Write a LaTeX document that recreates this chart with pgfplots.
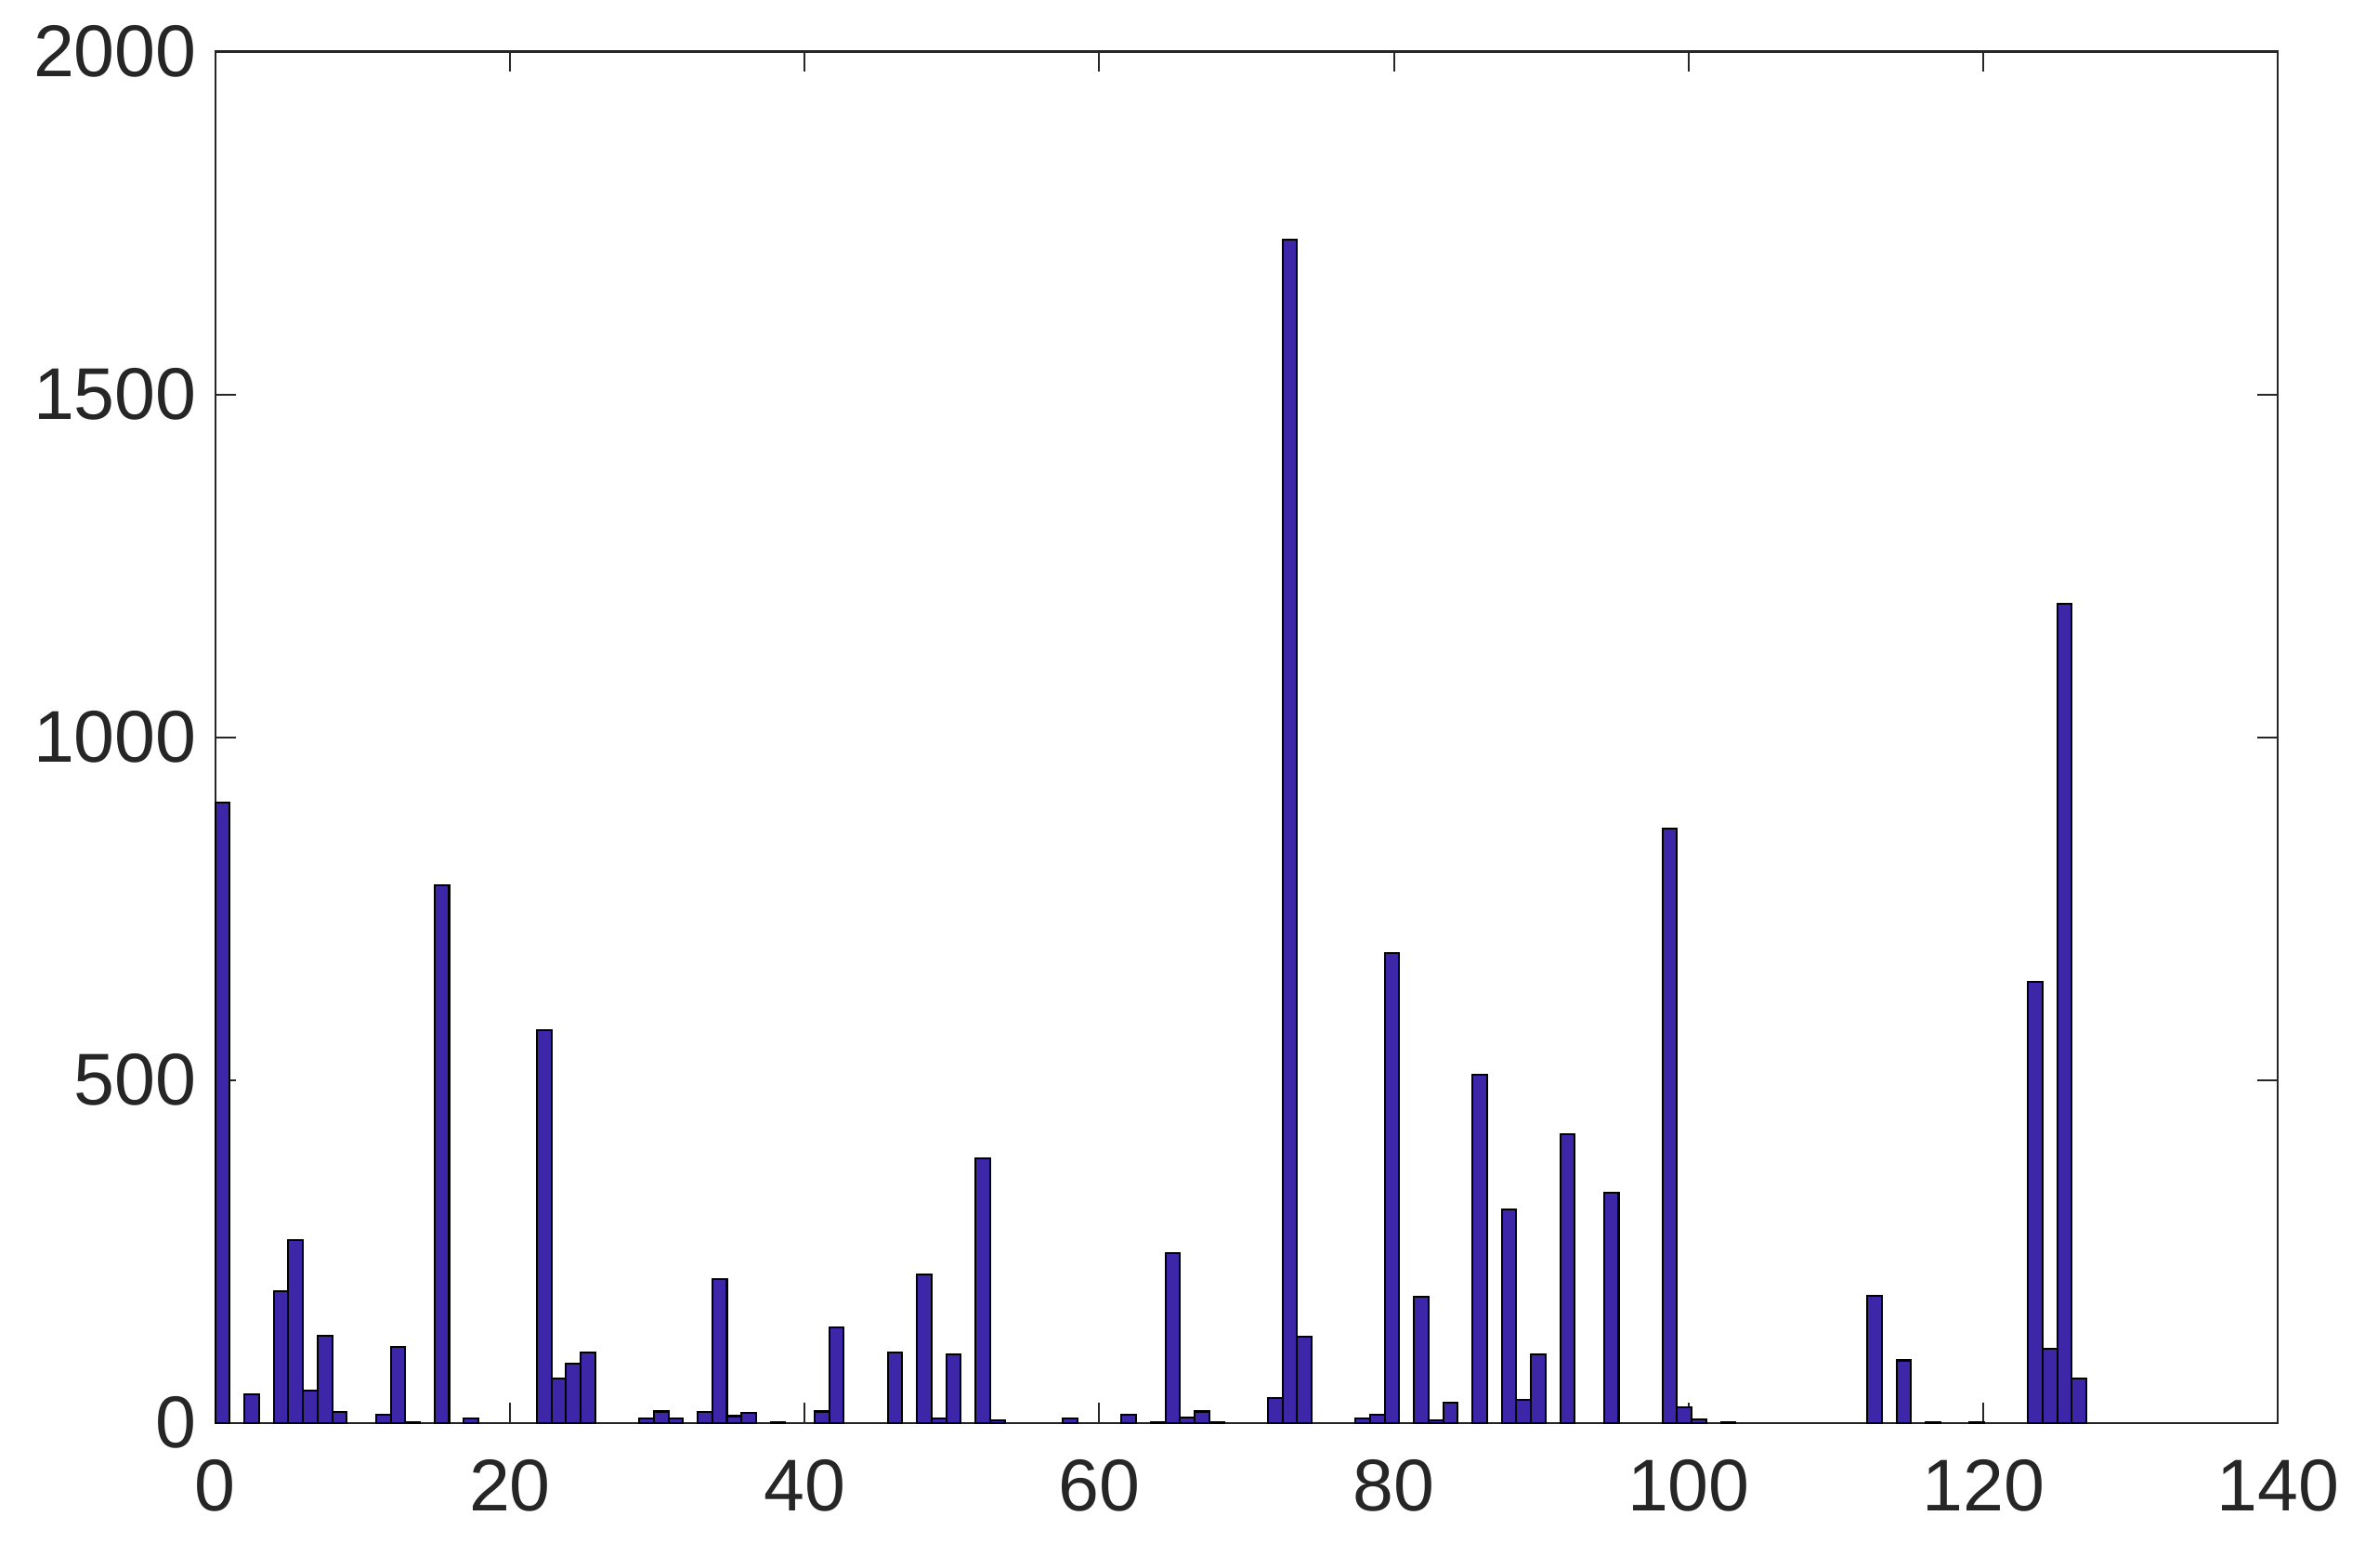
\documentclass[border=0pt]{standalone}
\usepackage{fontspec}
\setmainfont{Liberation Sans}
\usepackage{pgfplots}
\pgfplotsset{compat=1.18}
\usepackage{pgfplotstable}
\definecolor{barblue}{RGB}{62,38,168}
\definecolor{axgray}{RGB}{38,38,38}
\pgfplotstableread{
k v
0 905
2 42
4 192
5 267
6 47
7 127
8 16
11 12
12 111
13 1
15 784
17 6
22 573
23 65
24 86
25 102
29 6.5
30 16.5
31 6.5
33 15.6
34 210
35 9.7
36 14.7
38 1
41 16.5
42 138.5
46 102
48 216
49 6
50 100
52 386
53 4
58 6.5
62 12
64 1
65 247
66 7.5
67 16.5
68 1
72 36
73 1725
74 125
78 6.5
79 12
80 685
82 184
83 3
84 29
86 507
88 311
89 33
90 100
92 421
95 335
99 867
100 22
101 5
103 1
113 185
115 91
117 1
120 1
124 643
125 108
126 1195
127 65
}\hist
\begin{document}
\begin{tikzpicture}
\path[use as bounding box] (-45.5pt,-30.7pt) rectangle (454.5pt,300.8pt);
\begin{axis}[
  at={(0,0)}, anchor=south west,
  scale only axis,
  width=436.1pt, height=289.9pt,
  xmin=0, xmax=140, ymin=0, ymax=2000,
  xtick={0,20,...,140},
  ytick={0,500,...,2000},
  tick align=inside,
  major tick length=4.3pt,
  minor tick num=0,
  axis line style={axgray, line width=0.4pt},
  every tick/.style={axgray, line width=0.4pt},
  tick label style={font=\fontsize{15.5}{18}\selectfont, text=axgray},
  /pgf/number format/assume math mode=true,
  /pgf/number format/1000 sep={},
  xticklabel style={yshift=-4.2pt},
  yticklabel style={xshift=-0.4pt},
  scaled y ticks=false,
  clip=false,
]
\addplot[ybar, bar width=0.9921875, bar shift=0.49609375, fill=barblue, draw=black, line width=0.4pt]
  table[x expr=\thisrow{k}*0.9921875, y=v] {\hist};
\end{axis}
\end{tikzpicture}
\end{document}
